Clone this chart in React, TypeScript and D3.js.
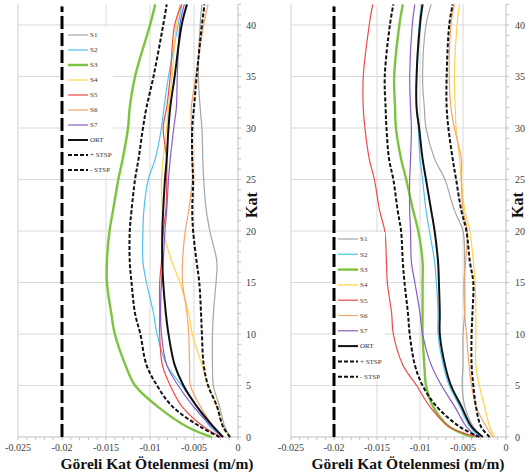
import React from "react";
import * as d3 from "d3";

const FLOORS = [0, 1, 3, 5, 7, 10, 12, 15, 17, 20, 22, 25, 27, 30, 32, 35, 40, 42];
const SERIES_NAMES = ["S1", "S2", "S3", "S4", "S5", "S6", "S7", "ORT", "+ STSP", "- STSP"];
const X_TICKS = [-0.025, -0.02, -0.015, -0.01, -0.005, 0];
const Y_TICKS = [0, 5, 10, 15, 20, 25, 30, 35, 40];
const LIMIT = -0.02;
const X_TITLE = "Göreli Kat Ötelenmesi (m/m)";
const Y_TITLE = "Kat";

// Left panel
const L_S1 = [-0.0009, -0.0015, -0.0021, -0.0028, -0.0029, -0.0029, -0.0028, -0.0025, -0.0024, -0.0032, -0.0036, -0.0039, -0.004, -0.0041, -0.0043, -0.0045, -0.0043, -0.0041];
const L_S2 = [-0.0017, -0.0032, -0.0047, -0.0064, -0.0081, -0.0092, -0.0096, -0.0104, -0.0108, -0.0108, -0.0107, -0.0102, -0.0094, -0.0087, -0.0084, -0.0079, -0.0068, -0.0064];
const L_S3 = [-0.003, -0.0058, -0.0092, -0.0117, -0.0128, -0.014, -0.0144, -0.0149, -0.0149, -0.0146, -0.0142, -0.0136, -0.0131, -0.0125, -0.0123, -0.0117, -0.01, -0.0094];
const L_S4 = [-0.0009, -0.0017, -0.0024, -0.0034, -0.0041, -0.0052, -0.0056, -0.0066, -0.0075, -0.0085, -0.0086, -0.0087, -0.0085, -0.0081, -0.0079, -0.0075, -0.007, -0.0066];
const L_S5 = [-0.0019, -0.0039, -0.0064, -0.0077, -0.0086, -0.0089, -0.0089, -0.0089, -0.0087, -0.0085, -0.0082, -0.0081, -0.0081, -0.0085, -0.0081, -0.0077, -0.0072, -0.0064];
const L_S6 = [-0.0017, -0.0028, -0.0043, -0.0054, -0.0055, -0.0056, -0.0058, -0.0063, -0.0063, -0.006, -0.0056, -0.0052, -0.0052, -0.0053, -0.0053, -0.0048, -0.0039, -0.0034];
const L_S7 = [-0.0017, -0.003, -0.0051, -0.0068, -0.0081, -0.0087, -0.0088, -0.0087, -0.0085, -0.0083, -0.0081, -0.0079, -0.0077, -0.0073, -0.007, -0.0069, -0.0066, -0.0061];
const L_ORT = [-0.0017, -0.0028, -0.0047, -0.0062, -0.0072, -0.0079, -0.0082, -0.0085, -0.0086, -0.0086, -0.0085, -0.0083, -0.0081, -0.0079, -0.0077, -0.0072, -0.0064, -0.0058];
const L_PSTSP = [-0.0009, -0.0017, -0.0024, -0.0034, -0.0039, -0.0041, -0.0042, -0.0044, -0.0047, -0.0051, -0.0052, -0.0051, -0.0052, -0.0052, -0.005, -0.0047, -0.0041, -0.0038];
const L_MSTSP = [-0.0021, -0.0043, -0.0075, -0.0092, -0.0104, -0.0111, -0.0117, -0.0121, -0.0123, -0.0123, -0.0121, -0.0117, -0.0113, -0.0108, -0.0104, -0.0096, -0.0085, -0.0081];

// Right panel
const R_S1 = [-0.0027, -0.0038, -0.0048, -0.0051, -0.005, -0.005, -0.0048, -0.0048, -0.0048, -0.005, -0.006, -0.0071, -0.0083, -0.0093, -0.0095, -0.0097, -0.0093, -0.0087];
const R_S2 = [-0.0031, -0.0042, -0.0054, -0.0066, -0.0073, -0.0079, -0.0079, -0.0081, -0.0083, -0.0089, -0.0093, -0.0097, -0.01, -0.0102, -0.0104, -0.0104, -0.0101, -0.0098];
const R_S3 = [-0.0038, -0.0066, -0.0085, -0.0093, -0.0095, -0.0097, -0.0097, -0.0097, -0.0097, -0.0102, -0.0108, -0.0116, -0.0122, -0.0128, -0.0129, -0.013, -0.0124, -0.012];
const R_S4 = [-0.0013, -0.0019, -0.0025, -0.0031, -0.0035, -0.0035, -0.0035, -0.0036, -0.0038, -0.0042, -0.0048, -0.0052, -0.0054, -0.0058, -0.0059, -0.006, -0.0057, -0.0054];
const R_S5 = [-0.0034, -0.0066, -0.0089, -0.0104, -0.012, -0.0131, -0.0133, -0.0138, -0.0139, -0.0141, -0.0147, -0.0153, -0.0159, -0.0164, -0.0166, -0.0166, -0.0159, -0.0155];
const R_S6 = [-0.0015, -0.0023, -0.0035, -0.004, -0.0043, -0.0046, -0.0048, -0.0049, -0.0047, -0.0045, -0.005, -0.0052, -0.0052, -0.006, -0.0064, -0.0066, -0.0064, -0.006];
const R_S7 = [-0.0034, -0.0046, -0.006, -0.0075, -0.0087, -0.0097, -0.01, -0.0106, -0.011, -0.0111, -0.0112, -0.0112, -0.0111, -0.011, -0.0111, -0.0112, -0.0109, -0.0106];
const R_ORT = [-0.0027, -0.004, -0.0052, -0.0064, -0.0071, -0.0077, -0.0077, -0.0078, -0.0079, -0.0083, -0.0087, -0.0093, -0.0097, -0.0101, -0.0104, -0.0104, -0.01, -0.0097];
const R_PSTSP = [-0.0019, -0.0029, -0.0035, -0.0038, -0.004, -0.004, -0.0039, -0.0038, -0.0042, -0.0046, -0.0052, -0.0058, -0.0062, -0.0067, -0.0069, -0.0069, -0.0066, -0.0062];
const R_MSTSP = [-0.0031, -0.0054, -0.0081, -0.0097, -0.0106, -0.0112, -0.0114, -0.0118, -0.012, -0.0122, -0.0126, -0.0131, -0.0136, -0.0139, -0.014, -0.0141, -0.0135, -0.0131];

const STYLES = [
  { color: "#a6a6a6", width: 1.2, dash: "" },
  { color: "#4dc3ef", width: 1.2, dash: "" },
  { color: "#7cc43f", width: 2.4, dash: "" },
  { color: "#ffd24a", width: 1.2, dash: "" },
  { color: "#f04848", width: 1.2, dash: "" },
  { color: "#f5a468", width: 1.2, dash: "" },
  { color: "#8a5cc4", width: 1.2, dash: "" },
  { color: "#111111", width: 2.0, dash: "" },
  { color: "#111111", width: 2.0, dash: "4 2" },
  { color: "#111111", width: 2.0, dash: "4 2" },
];

const SERIF = "'Liberation Serif', 'Times New Roman', serif";

type PanelProps = {
  series: number[][];
  x0: number;
  x1: number;
  labelX: number;
  katX: number;
  titleX: number;
  legend: { x: number; y: number; w: number; h: number; y0: number; step: number };
};

function Panel({ series, x0, x1, labelX, katX, titleX, legend }: PanelProps) {
  const x = d3.scaleLinear().domain([-0.025, 0]).range([x0, x1]);
  const y = d3.scaleLinear().domain([0, 42]).range([437, 4.4]);
  const minorX = d3.range(-25, 1).map((d) => d / 1000);
  const minorY = d3.range(0, 43);
  const line = d3
    .line<number>()
    .x((d) => x(d))
    .y((_, i) => y(FLOORS[i]))
    .curve(d3.curveCatmullRom.alpha(0.5));
  const grid = "#d9d9d9";
  return (
    <g>
      {/* gridlines */}
      {Y_TICKS.slice(1).map((t) => (
        <line key={"gy" + t} x1={x0} x2={x1} y1={y(t)} y2={y(t)} stroke={grid} strokeWidth={1} />
      ))}
      {X_TICKS.slice(1, -1).map((t) => (
        <line key={"gx" + t} x1={x(t)} x2={x(t)} y1={y(0)} y2={y(42)} stroke={grid} strokeWidth={1} />
      ))}
      {/* axes */}
      <line x1={x0} x2={x0} y1={y(0)} y2={y(42)} stroke="#cfcfcf" />
      <line x1={x1} x2={x1} y1={y(0)} y2={y(42)} stroke="#bfbfbf" />
      <line x1={x0} x2={x1} y1={y(0)} y2={y(0)} stroke="#bfbfbf" />
      {minorX.map((t, i) => (
        <line key={"mx" + i} x1={x(t)} x2={x(t)} y1={y(0)} y2={y(0) + 3} stroke="#bfbfbf" />
      ))}
      {minorY.map((t) => (
        <line key={"my" + t} x1={x1} x2={x1 + 3} y1={y(t)} y2={y(t)} stroke="#bfbfbf" />
      ))}
      {X_TICKS.map((t) => (
        <text key={"tx" + t} x={x(t)} y={451} textAnchor="middle" fontFamily={SERIF} fontSize={10} fill="#404040">
          {t === 0 ? "0" : String(t)}
        </text>
      ))}
      {Y_TICKS.map((t) => (
        <text key={"ty" + t} x={labelX} y={y(t) + 3.5} textAnchor="start" fontFamily={SERIF} fontSize={10} fill="#404040">
          {t}
        </text>
      ))}
      <text x={titleX} y={469} textAnchor="middle" fontFamily={SERIF} fontSize={15.5} fontWeight="bold" fill="#111">
        {X_TITLE}
      </text>
      <text
        transform={`translate(${katX},${205}) rotate(-90)`}
        textAnchor="middle"
        fontFamily={SERIF}
        fontSize={16}
        fontWeight="bold"
        fill="#111"
      >
        {Y_TITLE}
      </text>
      {/* series */}
      {series.map((s, i) => (
        <path
          key={"s" + i}
          d={line(s) || ""}
          fill="none"
          stroke={STYLES[i].color}
          strokeWidth={STYLES[i].width}
          strokeDasharray={STYLES[i].dash || undefined}
        />
      ))}
      {/* legend */}
      <rect x={legend.x} y={legend.y} width={legend.w} height={legend.h} fill="#ffffff" />
      {SERIES_NAMES.map((n, i) => {
        const ly = legend.y0 + i * legend.step;
        const lx = legend.x + 5;
        return (
          <g key={"l" + i}>
            <line
              x1={lx}
              x2={lx + 20}
              y1={ly}
              y2={ly}
              stroke={STYLES[i].color}
              strokeWidth={STYLES[i].width}
              strokeDasharray={STYLES[i].dash || undefined}
            />
            <text x={lx + 22} y={ly + 2.3} fontFamily={SERIF} fontSize={7} fill="#333">
              {n}
            </text>
          </g>
        );
      })}
      {/* limit line */}
      <line x1={x(LIMIT)} x2={x(LIMIT)} y1={y(0)} y2={y(42) + 2} stroke="#000" strokeWidth={3} strokeDasharray="13 4" />
    </g>
  );
}

export default function App() {
  const left = [L_S1, L_S2, L_S3, L_S4, L_S5, L_S6, L_S7, L_ORT, L_PSTSP, L_MSTSP];
  const right = [R_S1, R_S2, R_S3, R_S4, R_S5, R_S6, R_S7, R_ORT, R_PSTSP, R_MSTSP];
  return (
    <svg
      width={526}
      height={475}
      style={{ position: "absolute", left: 0, top: 0, background: "#fff" }}
    >
      <rect x={0} y={0} width={526} height={475} fill="#fff" />
      <Panel
        series={left}
        x0={18}
        x1={238}
        labelX={246}
        katX={257}
        titleX={157}
        legend={{ x: 63, y: 27, w: 50, h: 150, y0: 35, step: 15 }}
      />
      <Panel
        series={right}
        x0={291}
        x1={506}
        labelX={515}
        katX={523}
        titleX={408}
        legend={{ x: 333, y: 232, w: 52, h: 149, y0: 239, step: 15.3 }}
      />
    </svg>
  );
}
